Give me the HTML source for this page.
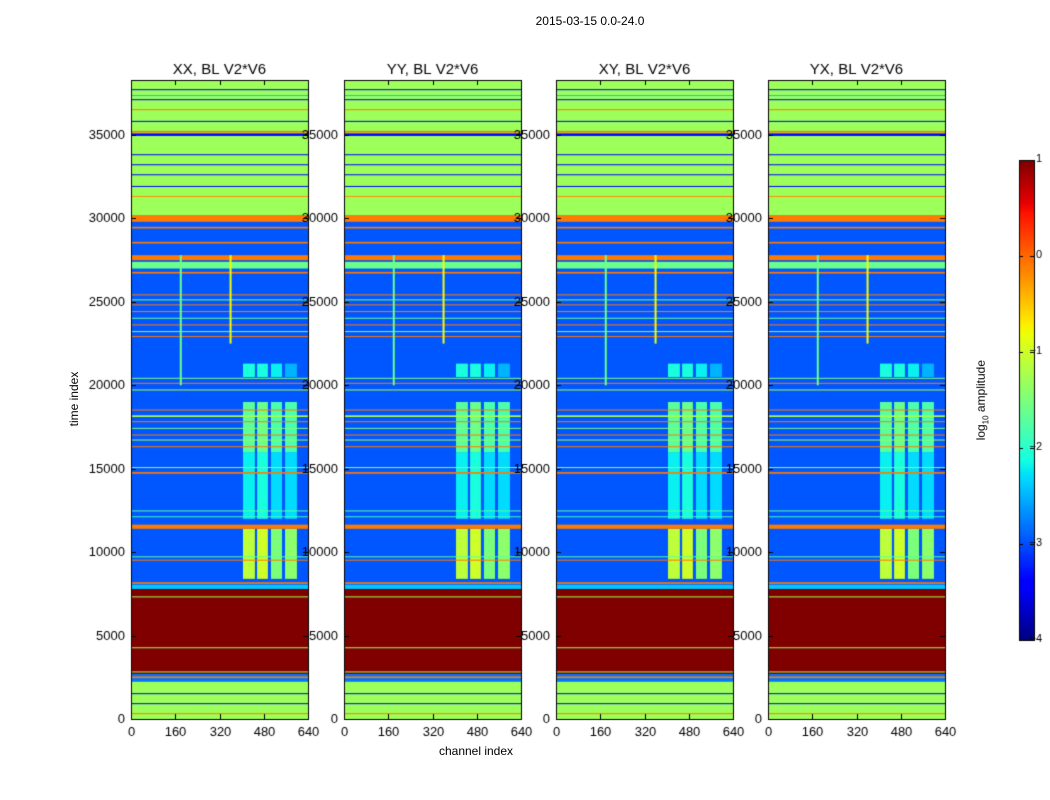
<!DOCTYPE html>
<html><head><meta charset="utf-8">
<style>
body{margin:0;background:#fff;font-family:"Liberation Sans",sans-serif;}
#root{position:relative;width:1050px;height:800px;overflow:hidden;background:#fff;}
canvas{position:absolute;left:0;top:0;}
</style></head>
<body>
<div id="root">
<canvas id="cv" width="1050" height="800"></canvas>
</div>
<script>
// ---- data (log10 amplitude) ----
const panelTitles = ["XX, BL V2*V6","YY, BL V2*V6","XY, BL V2*V6","YX, BL V2*V6"];
const xTicks = [0,160,320,480,640];
const yTicks = [0,5000,10000,15000,20000,25000,30000,35000];
const cbTicks = [1,0,-1,-2,-3,-4];
const backgroundLevel = -2.95;
// horizontal bands: start time, end time, level
const bandStart = [0,2250,2700,7800,8100,11400,29800,30200,27500,27000,28500,29400,9500,9700,12100,12450,14700,15050,16300,16700,17000,17400,17800,18100,18500,19700,20100,20400,22900,23200,23600,24000,24400,24800,25100,25400,26700,300,900,1500,2450,2800,4250,7300,31300,31900,32600,33200,33800,34950,35150,35800,36500,37100,37350,37700];
const bandEnd   = [2250,2700,7800,8050,8200,11650,30200,38300,27800,27400,28600,29500,9550,9750,12150,12500,14800,15100,16350,16750,17050,17450,17850,18200,18550,19750,20150,20450,22950,23250,23650,24050,24450,24850,25150,25450,26800,350,950,1550,2550,2850,4300,7350,31350,31950,32650,33250,33850,35100,35250,35850,36550,37150,37400,37750];
const bandLevel = [-1.3,-2.8,1,-2.4,-0.1,-0.1,-0.1,-1.3,-0.1,-1.6,-0.1,-0.1,-0.1,-1.7,-1.9,-1.7,-0.1,-1.4,-0.1,-1.3,-0.1,-1.5,-0.1,-1.2,-0.1,-1.3,-0.1,-1.5,-0.1,-1.4,-0.1,-1.6,-0.1,-0.1,-1.5,-0.1,-0.1,-0.1,-3.4,-3.4,-0.1,-1.3,-1.3,-1.3,-0.2,-3.4,-3.4,-3.4,-3.4,-3.4,-0.1,-3.4,-0.1,-3.4,-2.4,-3.4];
// channel column features: chan start, chan end, time start, time end, level
const colChan0 = [405,456,506,557, 405,456,506,557, 405,456,506,557, 405,456,506,557];
const colChan1 = [448,495,546,600, 448,495,546,600, 448,495,546,600, 448,495,546,600];
const colT0    = [8400,8400,8400,8400, 12000,12000,12000,12000, 16000,16000,16000,16000, 20500,20500,20500,20500];
const colT1    = [11400,11400,11400,11400, 16000,16000,16000,16000, 19000,19000,19000,19000, 21300,21300,21300,21300];
const colLevel = [-1.1,-1.0,-1.5,-1.4, -2.2,-2.1,-2.3,-2.3, -1.7,-1.6,-1.8,-1.8, -2.1,-2.1,-2.2,-2.5];
// vertical RFI lines: channel, time start, time end, level
const vChan = [180,360];
const vT0 = [20000,22500];
const vT1 = [27800,27800];
const vLevel = [-1.6,-0.8];

// ---- layout ----
const lefts=[131,344,556,768], W=177, TOP=80, H=639, TMAX=38300;
const cv=document.getElementById('cv'), ctx=cv.getContext('2d');
function jet(v){ // v in [-4,1]
  let t=(v+4)/5; t=Math.max(0,Math.min(1,t));
  function interp(pts){for(let i=0;i<pts.length-1;i++){const a=pts[i],b=pts[i+1];if(t>=a[0]&&t<=b[0])return a[1]+(b[1]-a[1])*(t-a[0])/(b[0]-a[0]);}return pts[pts.length-1][1];}
  const r=interp([[0,0],[0.35,0],[0.66,1],[0.89,1],[1,0.5]]);
  const g=interp([[0,0],[0.125,0],[0.375,1],[0.64,1],[0.91,0],[1,0]]);
  const b=interp([[0,0.5],[0.11,1],[0.34,1],[0.65,0],[1,0]]);
  return `rgb(${Math.round(r*255)},${Math.round(g*255)},${Math.round(b*255)})`;
}
function yOf(t){return TOP+H-(t/TMAX)*H;}
function xOf(p,c){return lefts[p]+(c/640)*W;}

ctx.font='13px "Liberation Sans",sans-serif';
for(let p=0;p<4;p++){
  const L=lefts[p];
  ctx.fillStyle=jet(backgroundLevel);ctx.fillRect(L,TOP,W,H);
  for(let i=0;i<colChan0.length;i++){
    ctx.fillStyle=jet(colLevel[i]);
    ctx.fillRect(xOf(p,colChan0[i]),yOf(colT1[i]),xOf(p,colChan1[i])-xOf(p,colChan0[i]),yOf(colT0[i])-yOf(colT1[i]));
  }
  for(let i=0;i<bandStart.length;i++){
    ctx.fillStyle=jet(bandLevel[i]);
    const y1=yOf(bandEnd[i]),y0=yOf(bandStart[i]);
    ctx.fillRect(L,y1,W,Math.max(1,y0-y1));
  }
  for(let i=0;i<vChan.length;i++){
    ctx.fillStyle=jet(vLevel[i]);
    ctx.fillRect(xOf(p,vChan[i])-1,yOf(vT1[i]),2,yOf(vT0[i])-yOf(vT1[i]));
  }
  ctx.strokeStyle='#000';ctx.lineWidth=1;ctx.strokeRect(L+0.5,TOP+0.5,W,H);
  ctx.fillStyle='#000';ctx.textAlign='center';ctx.textBaseline='top';
  xTicks.forEach(v=>{const x=Math.round(xOf(p,v))+0.5;
    ctx.beginPath();ctx.moveTo(x,TOP+H);ctx.lineTo(x,TOP+H-5);ctx.moveTo(x,TOP);ctx.lineTo(x,TOP+5);ctx.stroke();
    ctx.fillText(String(v),x,TOP+H+7);});
  ctx.textAlign='right';ctx.textBaseline='middle';
  yTicks.forEach(v=>{const y=Math.round(yOf(v))+0.5;
    ctx.beginPath();ctx.moveTo(L,y);ctx.lineTo(L+5,y);ctx.moveTo(L+W,y);ctx.lineTo(L+W-5,y);ctx.stroke();
    ctx.fillText(String(v),L-6,y);});
  ctx.font='15px "Liberation Sans",sans-serif';ctx.textAlign='center';ctx.textBaseline='alphabetic';
  ctx.fillText(panelTitles[p],L+W/2,TOP-6);
  ctx.font='13px "Liberation Sans",sans-serif';
}
// colorbar
const CBX=1019,CBY=160,CBW=15,CBH=480;
for(let i=0;i<CBH;i++){ctx.fillStyle=jet(1-5*(i/CBH));ctx.fillRect(CBX,CBY+i,CBW,1);}
ctx.strokeRect(CBX+0.5,CBY+0.5,CBW,CBH);
ctx.font='11px "Liberation Sans",sans-serif';ctx.textAlign='right';ctx.textBaseline='middle';ctx.fillStyle='#000';
cbTicks.forEach(v=>{const y=Math.round(CBY+(1-v)/5*CBH)+0.5;
  ctx.beginPath();ctx.moveTo(CBX,y);ctx.lineTo(CBX+4,y);ctx.moveTo(CBX+CBW,y);ctx.lineTo(CBX+CBW-4,y);ctx.stroke();
  ctx.fillText(v<0?'\u2212'+(-v):String(v),1042,y-2);});
</script>
<div style="position:absolute;left:490px;top:14px;width:200px;text-align:center;font-size:12px;">2015-03-15 0.0-24.0</div>
<div style="position:absolute;left:400px;top:744px;width:152px;text-align:center;font-size:12px;">channel index</div>
<div style="position:absolute;left:24px;top:392px;width:100px;text-align:center;font-size:12px;transform:rotate(-90deg);">time index</div>
<div style="position:absolute;left:932px;top:392px;width:100px;text-align:center;font-size:12px;transform:rotate(-90deg);">log<sub style="font-size:8px">10</sub> amplitude</div>
</body></html>
